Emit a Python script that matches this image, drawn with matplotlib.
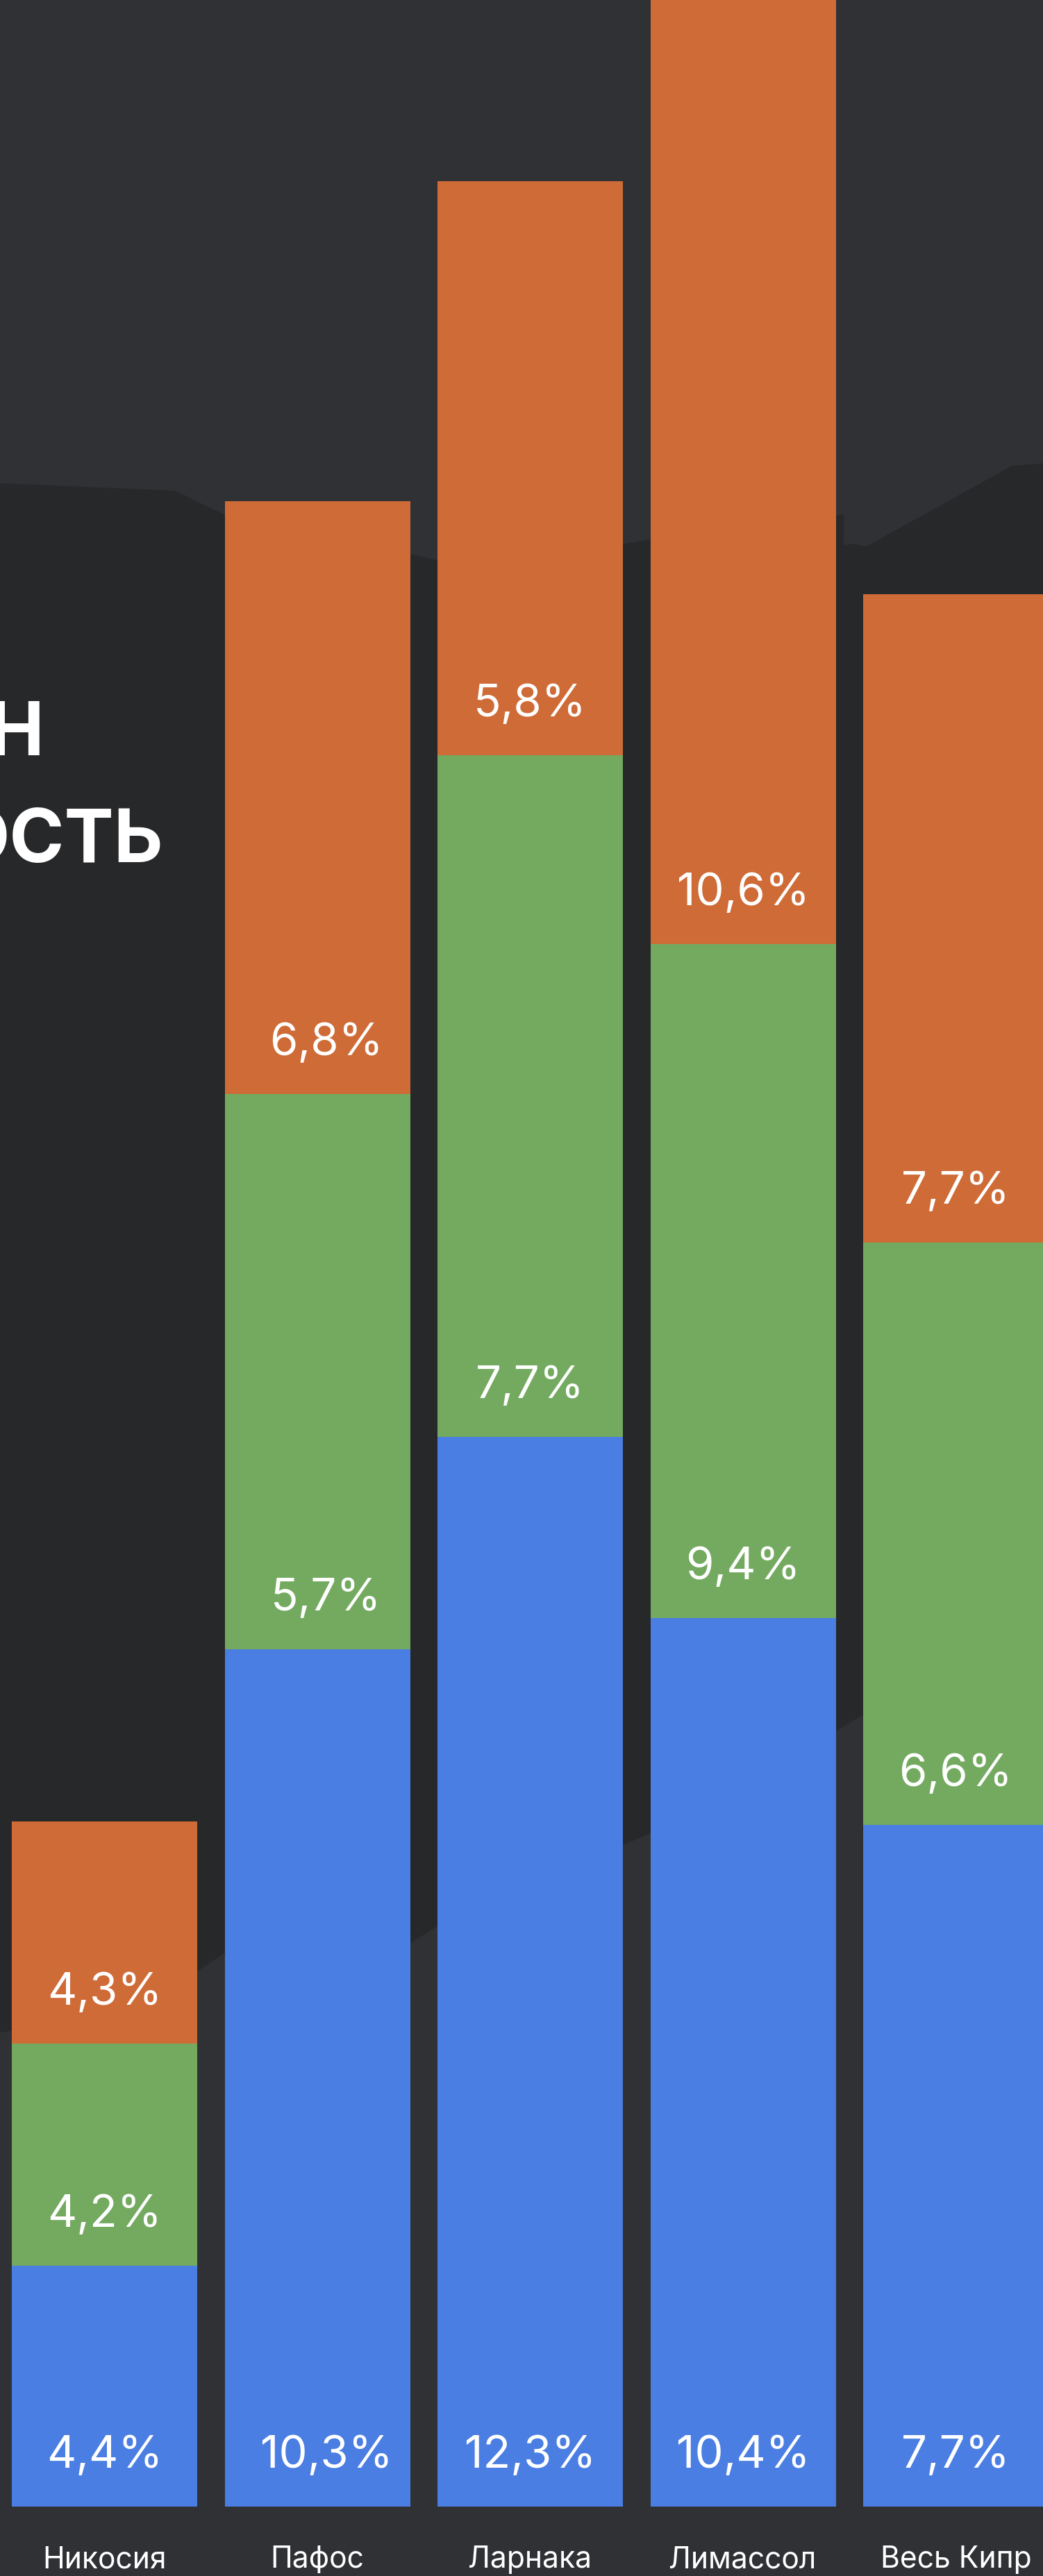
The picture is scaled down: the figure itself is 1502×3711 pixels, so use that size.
import matplotlib
matplotlib.use("Agg")
import matplotlib.pyplot as plt
import numpy as np
from matplotlib.patches import Polygon
from matplotlib.transforms import Affine2D

categories = ["Никосия", "Пафос", "Ларнака", "Лимассол", "Весь Кипр"]
blue_values = [2.776, 9.88, 12.33, 10.24, 7.856]
green_values = [2.56, 6.40, 7.856, 7.768, 6.712]
orange_values = [2.56, 6.832, 6.616, 10.88, 7.472]
blue_labels = ["4,4%", "10,3%", "12,3%", "10,4%", "7,7%"]
green_labels = ["4,2%", "5,7%", "7,7%", "9,4%", "6,6%"]
orange_labels = ["4,3%", "6,8%", "5,8%", "10,6%", "7,7%"]

W, H = 1502, 3711
BG, DARK = "#303135", "#272829"
BLUE, GREEN, ORANGE = "#4A7EE2", "#73AA60", "#CF6B37"
FONT = "Inter"
PX = 125.0      # pixels per unit
PITCH = 306.5
X0 = 150.5
BASE = 3611
label_dx = [0, 13, 0, 0, 0]
name_dx = [0, 0, 0, -1, 0]

fig = plt.figure(figsize=(W / 100, H / 100), dpi=100, facecolor=BG)

ax = fig.add_axes([0, 0, 1, 1], facecolor="none")
ax.set_xlim(-X0 / PITCH, (W - X0) / PITCH)
ax.set_ylim(-(H - BASE) / PX, BASE / PX)
ax.axis("off")

# background silhouette, in figure pixels (y down)
shape = [(0, 696), (253, 707), (297, 729), (323, 741), (590, 798), (630, 807),
         (760, 840), (897, 783.5), (937, 777), (1204, 743), (1215.5, 741),
         (1215, 785.5), (1228, 783.5), (1248, 787), (1457.5, 671), (1502, 667.5),
         (1502, 2400), (1243, 2470), (1204, 2494), (937, 2641), (897, 2658),
         (630, 2775), (590, 2800), (323, 2814), (284, 2840), (17, 2926), (0, 2928)]
px_tf = Affine2D().scale(1, -1).translate(0, H)
ax.add_patch(Polygon(shape, closed=True, facecolor=DARK, edgecolor="none",
                     transform=px_tf, zorder=0, clip_on=False))

x = np.arange(len(categories))
blue = np.array(blue_values)
green = np.array(green_values)
orange = np.array(orange_values)
width = 267 / PITCH
ax.bar(x, blue, width=width, color=BLUE, linewidth=0, zorder=2)
ax.bar(x, green, width=width, bottom=blue, color=GREEN, linewidth=0, zorder=2)
ax.bar(x, orange, width=width, bottom=blue + green, color=ORANGE, linewidth=0, zorder=2)

for labels, bottoms in ((blue_labels, np.zeros(5)), (green_labels, blue),
                        (orange_labels, blue + green)):
    for i, (lab, b) in enumerate(zip(labels, bottoms)):
        ax.annotate(lab, (i, b), xytext=(label_dx[i], 56), textcoords="offset pixels",
                    ha="center", va="baseline", color="white", fontsize=47,
                    family=FONT, fontweight="normal", zorder=3)

for i, name in enumerate(categories):
    ax.annotate(name, (i, 0), xytext=(name_dx[i], -88), textcoords="offset pixels",
                ha="center", va="baseline", color="white", fontsize=30.7, family=FONT,
                annotation_clip=False, zorder=3)

# title fragments, cut off by the left edge of the picture
fig.text(64 / W, 1 - 1088 / H, "Н", ha="right", va="baseline", color="white",
         fontsize=77, fontweight="bold", family=FONT, zorder=4)
fig.text(235 / W, 1 - 1242 / H, "ОСТЬ", ha="right", va="baseline", color="white",
         fontsize=77, fontweight="bold", family=FONT, zorder=4)

fig.savefig("out.png", dpi=100, facecolor=BG)
